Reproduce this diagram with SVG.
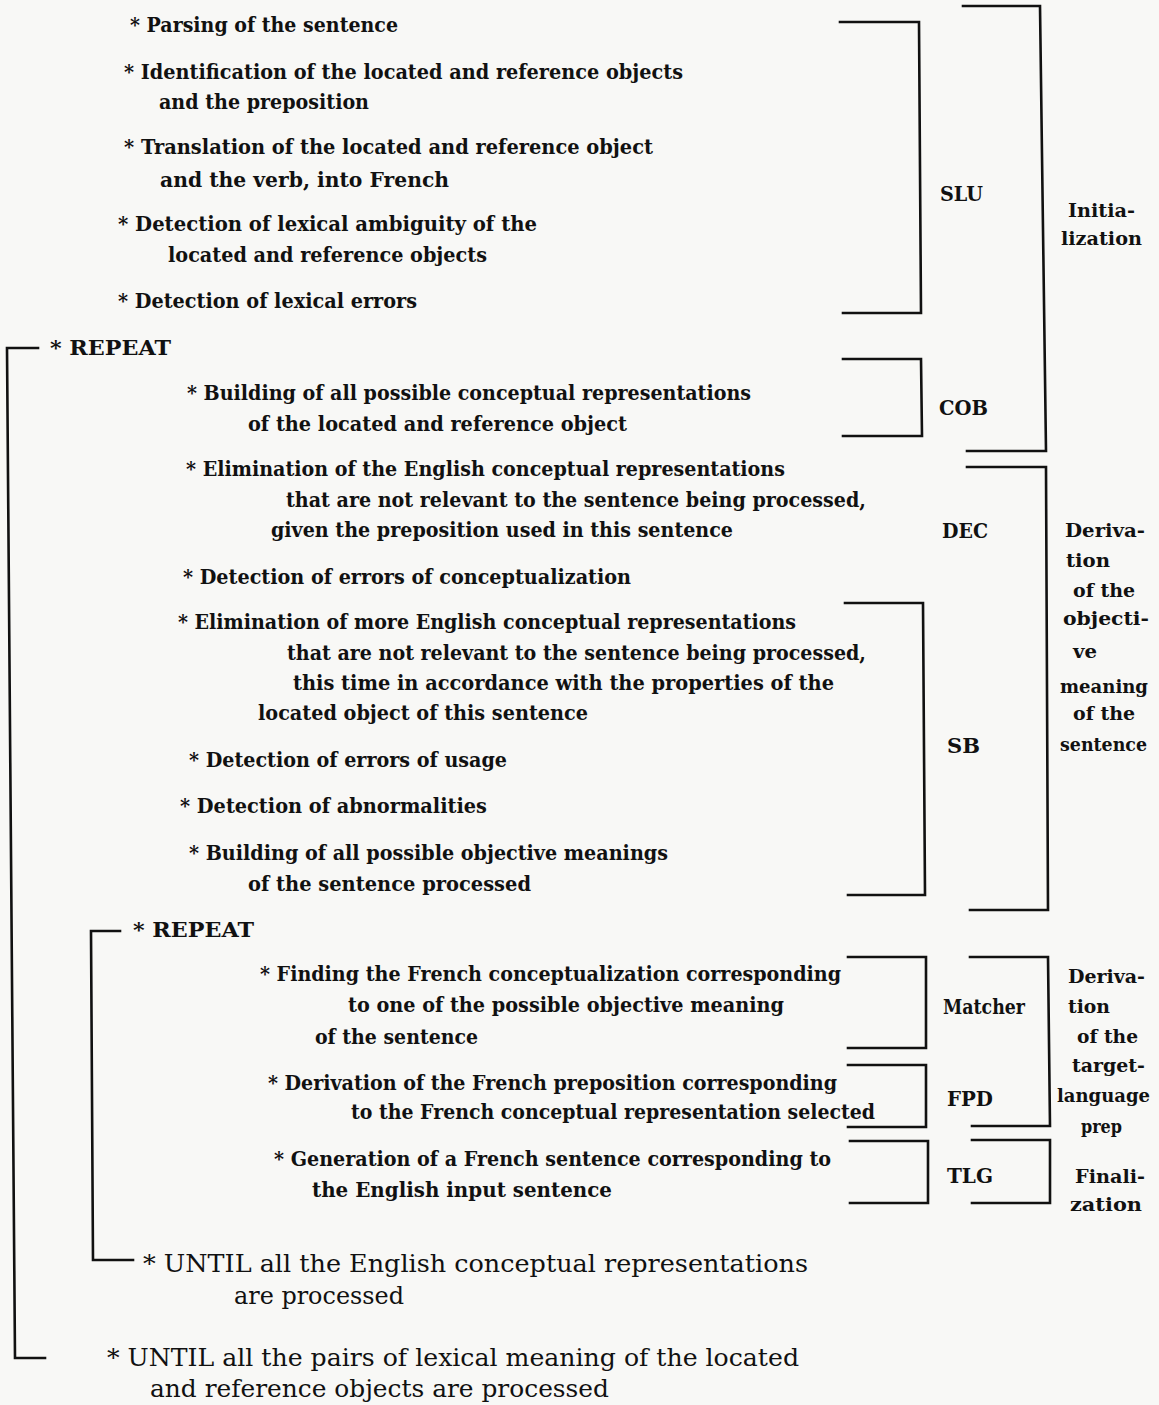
<svg xmlns="http://www.w3.org/2000/svg" width="1159" height="1405" viewBox="0 0 1159 1405">
<style>
.b{font-family:"DejaVu Serif","Liberation Serif",serif;font-weight:bold;font-size:20.5px;fill:#111}
.p{font-family:"DejaVu Serif","Liberation Serif",serif;font-weight:bold;font-size:19px;fill:#111}
.r{font-family:"DejaVu Serif","Liberation Serif",serif;font-size:23.5px;fill:#111}
.ln{stroke:#111;stroke-width:2.6;fill:none;stroke-linecap:square;stroke-linejoin:miter}
</style>
<rect width="1159" height="1405" fill="#f8f8f6"/>

<g id="connectors">
  <path class="ln" d="M840,22 H919 L921,313 H843"/>
  <path class="ln" d="M843,359 H921 L922,436 H843"/>
  <path class="ln" d="M963,6 H1040 L1046,451 H967"/>
  <path class="ln" d="M967,467 H1046 L1048,910 H970"/>
  <path class="ln" d="M845,603 H923 L925,895 H848"/>
  <path class="ln" d="M848,957 H926 V1048 H848"/>
  <path class="ln" d="M970,957 H1048 L1050,1126 H972"/>
  <path class="ln" d="M848,1065 H926 V1127 H848"/>
  <path class="ln" d="M850,1141 H928 V1203 H850"/>
  <path class="ln" d="M972,1140 H1050 V1203 H972"/>
  <path class="ln" d="M38,348 H7 L15,1358 H45"/>
  <path class="ln" d="M120,931 H91 L93,1260 H133"/>
</g>

<g id="tasks">
  <text class="b" x="130" y="32" textLength="268" lengthAdjust="spacingAndGlyphs">* Parsing of the sentence</text>
  <text class="b" x="124" y="79" textLength="559" lengthAdjust="spacingAndGlyphs">* Identification of the located and reference objects</text>
  <text class="b" x="159" y="109" textLength="210" lengthAdjust="spacingAndGlyphs">and the preposition</text>
  <text class="b" x="124" y="154" textLength="529" lengthAdjust="spacingAndGlyphs">* Translation of the located and reference object</text>
  <text class="b" x="160" y="187" textLength="289" lengthAdjust="spacingAndGlyphs">and the verb, into French</text>
  <text class="b" x="118" y="231" textLength="419" lengthAdjust="spacingAndGlyphs">* Detection of lexical ambiguity of the</text>
  <text class="b" x="168" y="262" textLength="319" lengthAdjust="spacingAndGlyphs">located and reference objects</text>
  <text class="b" x="118" y="308" textLength="299" lengthAdjust="spacingAndGlyphs">* Detection of lexical errors</text>
  <text class="b" x="50" y="355" textLength="121" lengthAdjust="spacingAndGlyphs">* REPEAT</text>
  <text class="b" x="187" y="400" textLength="564" lengthAdjust="spacingAndGlyphs">* Building of all possible conceptual representations</text>
  <text class="b" x="248" y="431" textLength="379" lengthAdjust="spacingAndGlyphs">of the located and reference object</text>
  <text class="b" x="186" y="476" textLength="599" lengthAdjust="spacingAndGlyphs">* Elimination of the English conceptual representations</text>
  <text class="b" x="286" y="507" textLength="580" lengthAdjust="spacingAndGlyphs">that are not relevant to the sentence being processed,</text>
  <text class="b" x="271" y="537" textLength="462" lengthAdjust="spacingAndGlyphs">given the preposition used in this sentence</text>
  <text class="b" x="183" y="584" textLength="448" lengthAdjust="spacingAndGlyphs">* Detection of errors of conceptualization</text>
  <text class="b" x="178" y="629" textLength="618" lengthAdjust="spacingAndGlyphs">* Elimination of more English conceptual representations</text>
  <text class="b" x="287" y="660" textLength="579" lengthAdjust="spacingAndGlyphs">that are not relevant to the sentence being processed,</text>
  <text class="b" x="293" y="690" textLength="541" lengthAdjust="spacingAndGlyphs">this time in accordance with the properties of the</text>
  <text class="b" x="258" y="720" textLength="330" lengthAdjust="spacingAndGlyphs">located object of this sentence</text>
  <text class="b" x="189" y="767" textLength="318" lengthAdjust="spacingAndGlyphs">* Detection of errors of usage</text>
  <text class="b" x="180" y="813" textLength="307" lengthAdjust="spacingAndGlyphs">* Detection of abnormalities</text>
  <text class="b" x="189" y="860" textLength="479" lengthAdjust="spacingAndGlyphs">* Building of all possible objective meanings</text>
  <text class="b" x="248" y="891" textLength="283" lengthAdjust="spacingAndGlyphs">of the sentence processed</text>
  <text class="b" x="133" y="937" textLength="121" lengthAdjust="spacingAndGlyphs">* REPEAT</text>
  <text class="b" x="260" y="981" textLength="581" lengthAdjust="spacingAndGlyphs">* Finding the French conceptualization corresponding</text>
  <text class="b" x="348" y="1012" textLength="436" lengthAdjust="spacingAndGlyphs">to one of the possible objective meaning</text>
  <text class="b" x="315" y="1044" textLength="163" lengthAdjust="spacingAndGlyphs">of the sentence</text>
  <text class="b" x="268" y="1090" textLength="569" lengthAdjust="spacingAndGlyphs">* Derivation of the French preposition corresponding</text>
  <text class="b" x="351" y="1119" textLength="524" lengthAdjust="spacingAndGlyphs">to the French conceptual representation selected</text>
  <text class="b" x="274" y="1166" textLength="557" lengthAdjust="spacingAndGlyphs">* Generation of a French sentence corresponding to</text>
  <text class="b" x="312" y="1197" textLength="300" lengthAdjust="spacingAndGlyphs">the English input sentence</text>
  <text class="r" x="143" y="1272" textLength="665" lengthAdjust="spacingAndGlyphs">* UNTIL all the English conceptual representations</text>
  <text class="r" x="234" y="1304" textLength="170" lengthAdjust="spacingAndGlyphs">are processed</text>
  <text class="r" x="107" y="1366" textLength="692" lengthAdjust="spacingAndGlyphs">* UNTIL all the pairs of lexical meaning of the located</text>
  <text class="r" x="150" y="1397" textLength="459" lengthAdjust="spacingAndGlyphs">and reference objects are processed</text>
</g>

<g id="modules">
  <text class="b" x="940" y="201" textLength="43" lengthAdjust="spacingAndGlyphs">SLU</text>
  <text class="b" x="939" y="415" textLength="49" lengthAdjust="spacingAndGlyphs">COB</text>
  <text class="b" x="942" y="538" textLength="46" lengthAdjust="spacingAndGlyphs">DEC</text>
  <text class="b" x="947" y="753" textLength="33" lengthAdjust="spacingAndGlyphs">SB</text>
  <text class="b" x="943" y="1014" textLength="82" lengthAdjust="spacingAndGlyphs">Matcher</text>
  <text class="b" x="947" y="1106" textLength="46" lengthAdjust="spacingAndGlyphs">FPD</text>
  <text class="b" x="947" y="1183" textLength="46" lengthAdjust="spacingAndGlyphs">TLG</text>
</g>

<g id="phases">
  <text class="p" x="1068" y="217" textLength="67" lengthAdjust="spacingAndGlyphs">Initia-</text>
  <text class="p" x="1061" y="245" textLength="81" lengthAdjust="spacingAndGlyphs">lization</text>

  <text class="p" x="1065" y="537" textLength="80" lengthAdjust="spacingAndGlyphs">Deriva-</text>
  <text class="p" x="1066" y="567" textLength="44" lengthAdjust="spacingAndGlyphs">tion</text>
  <text class="p" x="1073" y="597" textLength="62" lengthAdjust="spacingAndGlyphs">of the</text>
  <text class="p" x="1063" y="625" textLength="86" lengthAdjust="spacingAndGlyphs">objecti-</text>
  <text class="p" x="1073" y="658" textLength="24" lengthAdjust="spacingAndGlyphs">ve</text>
  <text class="p" x="1060" y="693" textLength="88" lengthAdjust="spacingAndGlyphs">meaning</text>
  <text class="p" x="1073" y="720" textLength="62" lengthAdjust="spacingAndGlyphs">of the</text>
  <text class="p" x="1060" y="751" textLength="87" lengthAdjust="spacingAndGlyphs">sentence</text>

  <text class="p" x="1068" y="983" textLength="77" lengthAdjust="spacingAndGlyphs">Deriva-</text>
  <text class="p" x="1068" y="1013" textLength="42" lengthAdjust="spacingAndGlyphs">tion</text>
  <text class="p" x="1077" y="1043" textLength="61" lengthAdjust="spacingAndGlyphs">of the</text>
  <text class="p" x="1072" y="1072" textLength="73" lengthAdjust="spacingAndGlyphs">target-</text>
  <text class="p" x="1057" y="1102" textLength="93" lengthAdjust="spacingAndGlyphs">language</text>
  <text class="p" x="1081" y="1133" textLength="41" lengthAdjust="spacingAndGlyphs">prep</text>

  <text class="p" x="1075" y="1183" textLength="70" lengthAdjust="spacingAndGlyphs">Finali-</text>
  <text class="p" x="1070" y="1211" textLength="72" lengthAdjust="spacingAndGlyphs">zation</text>
</g>
</svg>
